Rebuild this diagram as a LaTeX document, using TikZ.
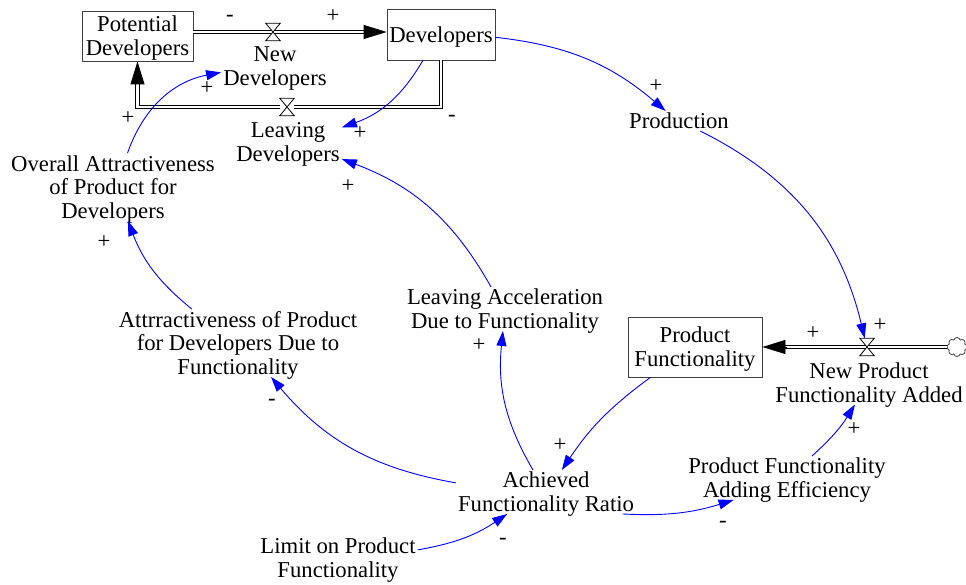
\documentclass[tikz,border=0pt]{standalone}
\usepackage{fontspec}
\setmainfont{Liberation Serif}
\usetikzlibrary{arrows.meta,shapes.symbols}

\tikzset{
  every node/.style={font=\fontsize{22.7pt}{23.8pt}\selectfont},
  lbl/.style={align=center, inner sep=2pt, text depth=0pt},
  stock/.style={draw=black!75, line width=0.8pt, align=center, inner sep=1pt, text depth=0pt},
  valvebox/.style={minimum width=14pt, minimum height=17pt, inner sep=0pt},
  valveline/.style={draw=black, line width=0.8pt, fill=white},
  pipe/.style={draw=black, double=white, double distance=2.5pt, line width=0.9pt},
  pipetip/.style={line width=0.8pt, -{Triangle[length=23pt,width=14pt]}},
  link/.style={draw=blue, line width=0.9pt, -{Triangle[length=15pt,width=10pt]}},
  sgn/.style={inner sep=0pt},
}

\begin{document}
\begin{tikzpicture}[x=1pt,y=1pt]
\useasboundingbox (0,0) rectangle (966,584);

% stocks and source
\node[stock, minimum width=111pt, minimum height=50pt] (pot) at (137.5,548) {Potential\\Developers};
\node[stock, minimum width=108pt, minimum height=51pt] (dev) at (441,549.5) {Developers};
\node[stock, minimum width=134pt, minimum height=60pt] (pf) at (695,237) {Product\\Functionality};
\node[cloud, cloud puffs=8, draw=black!75, line width=0.8pt, fill=white,
      minimum width=20pt, minimum height=19pt, inner sep=0pt] (src) at (957,237) {};

% valves
\node[valvebox] (v1) at (273,552) {};
\node[valvebox] (v2) at (287,477) {};
\node[valvebox] (v3) at (867,237) {};
\coordinate (d1) at (dev.west |- v1);
\coordinate (p1) at (pot.east |- v1);

% flows
\draw[pipe] (p1) -- ([xshift=-20pt]d1);
\draw[pipetip] ([xshift=-23pt]d1) -- (d1);
\draw[pipe] (dev.south) |- (v2) -| ([yshift=-18pt]pot.south);
\draw[pipetip] ([yshift=-21pt]pot.south) -- (pot.south);
\draw[pipe] (src.west) -- ([xshift=22pt]pf.east);
\draw[pipetip] ([xshift=25pt]pf.east) -- (pf.east);
\foreach \v in {v1,v2,v3}
  \draw[valveline] (\v.north west) -- (\v.north east) -- (\v.south west) -- (\v.south east) -- cycle;

% variables
\node[lbl] (newdev) at (275,518) {New\\Developers};
\node[lbl] (leavdev) at (288,442) {Leaving\\Developers};
\node[lbl] (prod) at (679,463) {Production};
\node[lbl] (npfa) at (869,201.5) {New Product\\Functionality Added};
\node[lbl] (pfae) at (787,106) {Product Functionality\\Adding Efficiency};
\node[lbl] (afr) at (546,92) {Achieved\\Functionality Ratio};
\node[lbl] (limit) at (338,26.5) {Limit on Product\\Functionality};
\node[lbl] (attdue) at (238,241) {Attrractiveness of Product\\for Developers Due to\\Functionality};
\node[lbl] (overall) at (113,397) {Overall Attractiveness\\of Product for\\Developers};
\node[lbl] (lacc) at (505,275) {Leaving Acceleration\\Due to Functionality};

% causal links
\draw[link] (dev) to[bend left=20] (leavdev);
\draw[link] (overall) to[bend left=30] (newdev);
\draw[link] (attdue) to[bend left=15] (overall);
\draw[link] (afr) to[bend left=20] (attdue);
\draw[link] (afr) to[bend left=18] (lacc);
\draw[link] (lacc) to[bend right=20] (leavdev);
\draw[link] (pf) to[bend right=10] (afr);
\draw[link] (limit) to[bend right=12] (afr);
\draw[link] (afr.-16) to[bend right=10] (pfae);
\draw[link] (pfae) to[bend right=8] (npfa);
\draw[link] (dev) to[bend left=17] (prod);
\draw[link] (prod) to[bend left=25] (v3);

% polarities
\foreach \x/\y/\s [count=\i] in {230/566/-, 333/568/+, 207/496/+, 128/466/+, 360/451/+,
    452/466/-, 348/398/+, 656/498/+, 104/342/+, 272/182/-, 479/239/+, 813/251/+,
    880/259/+, 560/139/+, 854/155/+, 723/60/-, 503/43/-}
  \node[sgn] (s\i) at (\x,\y) {\s};
\end{tikzpicture}
\end{document}
